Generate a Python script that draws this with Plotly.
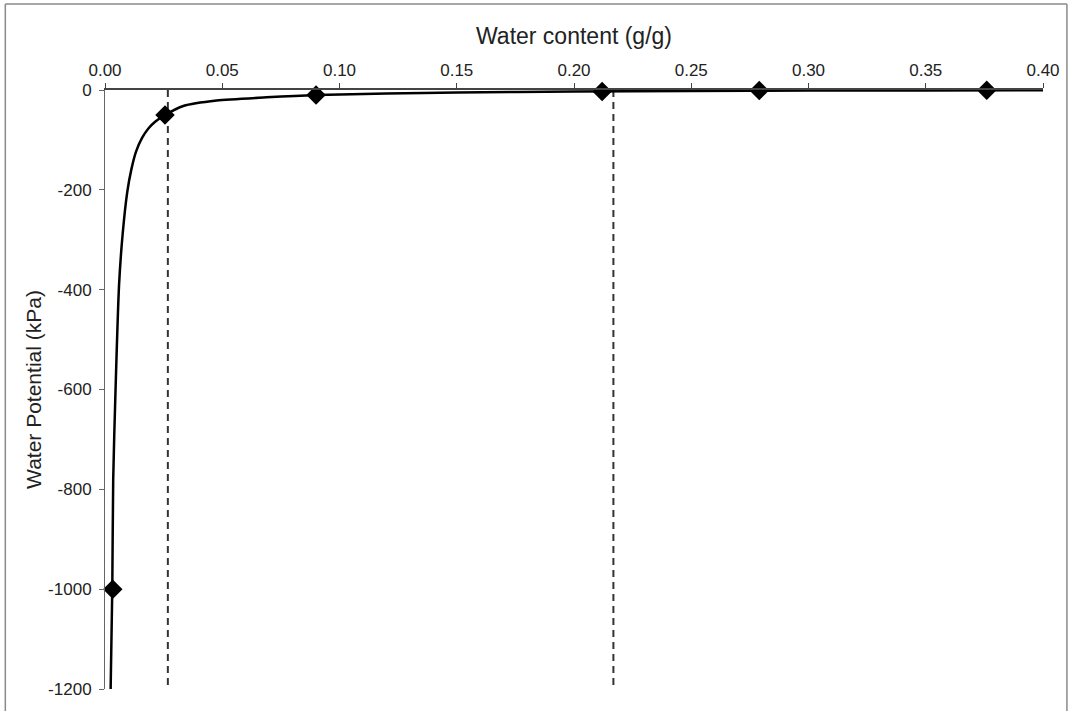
import plotly.graph_objects as go

# Measured points (water content g/g, water potential kPa)
meas_theta = [0.0033, 0.0256, 0.090, 0.212, 0.279, 0.376]
meas_psi = [-1000, -50, -10, -3, -1, -0.5]

# Fitted retention curve
curve_theta = [0.0024, 0.0031, 0.0035, 0.0045, 0.0060, 0.0075, 0.0095, 0.0112,
               0.0132, 0.0158, 0.0185, 0.0215, 0.0256, 0.0334, 0.0476, 0.0689,
               0.090, 0.120, 0.150, 0.200, 0.250, 0.300, 0.350, 0.400]
curve_psi = [-1200, -1000, -780, -600, -390, -290, -204, -160,
             -124, -96, -77, -63, -50, -32, -21, -14.7,
             -10, -7, -5, -3, -2, -1.2, -0.8, -0.5]

# Vertical dashed reference lines
ref_theta = [0.0268, 0.2168]
ref_psi_span = [0, -1200]

x_ticks = [0.00, 0.05, 0.10, 0.15, 0.20, 0.25, 0.30, 0.35, 0.40]
x_tick_labels = ["0.00", "0.05", "0.10", "0.15", "0.20", "0.25", "0.30", "0.35", "0.40"]
y_ticks = [0, -200, -400, -600, -800, -1000, -1200]
y_tick_labels = ["0", "-200", "-400", "-600", "-800", "-1000", "-1200"]

FONT = "Liberation Sans, Arial, sans-serif"
W, H = 1072, 711
ML, MR, MT, MB = 105, 26, 90, 22
PW, PH = W - ML - MR, H - MT - MB

fig = go.Figure()

for xv in ref_theta:
    fig.add_trace(go.Scatter(
        x=[xv, xv], y=ref_psi_span, mode="lines",
        line=dict(color="#333333", width=2, dash="7px,5px"),
        showlegend=False, hoverinfo="skip"))

fig.add_trace(go.Scatter(
    x=curve_theta, y=curve_psi, mode="lines",
    line=dict(color="black", width=2.5, shape="spline", smoothing=0.7),
    showlegend=False))

fig.add_trace(go.Scatter(
    x=meas_theta, y=meas_psi, mode="markers",
    marker=dict(symbol="diamond", size=15, color="black"),
    showlegend=False, cliponaxis=False))


def px_x(p):
    return (p - ML) / PW


def px_y(p):
    return (H - MB - p) / PH


frame = dict(color="#8a8a8a", width=1.5)
shapes = [
    dict(type="line", xref="paper", yref="paper", x0=px_x(5), x1=px_x(5), y0=px_y(4), y1=px_y(711), line=frame),
    dict(type="line", xref="paper", yref="paper", x0=px_x(5), x1=px_x(1070), y0=px_y(4), y1=px_y(4), line=frame),
    dict(type="line", xref="paper", yref="paper", x0=px_x(1070), x1=px_x(1070), y0=px_y(4), y1=px_y(711), line=frame),
]

fig.update_layout(
    width=W, height=H,
    margin=dict(l=ML, r=MR, t=MT, b=MB),
    paper_bgcolor="white", plot_bgcolor="white",
    font=dict(family=FONT, color="#222222"),
    shapes=shapes,
    xaxis=dict(
        side="top", range=[0, 0.4], tickvals=x_ticks, ticktext=x_tick_labels,
        showgrid=False, zeroline=False, showline=True, linecolor="#444444", linewidth=1.5,
        ticks="outside", ticklen=5, tickcolor="#444444", tickwidth=1,
        tickfont=dict(size=17, family=FONT, color="#222222"),
        title=dict(text="Water content (g/g)", font=dict(size=23, family=FONT, color="#222222"), standoff=10),
    ),
    yaxis=dict(
        range=[-1200, 0], tickvals=y_ticks, ticktext=y_tick_labels,
        showgrid=False, zeroline=False, showline=True, linecolor="#666666", linewidth=1,
        ticks="outside", ticklen=5, tickcolor="#666666", tickwidth=1,
        ticklabelstandoff=4,
        tickfont=dict(size=17, family=FONT, color="#222222"),
        title=dict(text="Water Potential (kPa)", font=dict(size=21, family=FONT, color="#222222"), standoff=0),
    ),
)

fig.write_html(
    "out.html",
    config={"displayModeBar": False},
    post_script="document.body.style.margin='0';document.body.style.overflow='hidden';",
)
